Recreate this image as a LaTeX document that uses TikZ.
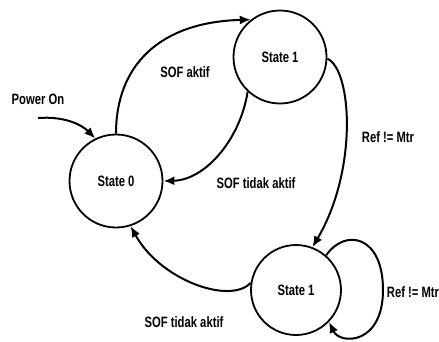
\documentclass[tikz,border=0pt]{standalone}
\usepackage{fontspec}
\setmainfont{Liberation Sans}[FakeStretch=0.75]
\usetikzlibrary{arrows.meta}
\begin{document}
\begin{tikzpicture}[x=1pt,y=-1pt,
  state/.style={circle,draw,line width=1.8pt,minimum size=93pt,inner sep=0pt,font=\fontsize{15}{17}\selectfont\bfseries},
  lbl/.style={font=\fontsize{15}{17}\selectfont\bfseries,inner sep=0pt},
  edge/.style={line width=2pt,-{Latex[length=11pt,width=9pt]}}]
\useasboundingbox (0,0) rectangle (439,341);
\node[state] (s0) at (116,181) {State 0};
\node[state] (s1) at (280,57) {State 1};
\node[state,minimum size=90pt] (s2) at (296,290) {State 1};
\coordinate (pw) at (38,118);
\node[lbl] (lpw) at (38,99) {Power On};
\node[lbl] (l1) at (185,72) {SOF aktif};
\node[lbl] (l2) at (256,183) {SOF tidak aktif};
\node[lbl] (l3) at (388,137) {Ref != Mtr};
\node[lbl] (l4) at (184,322) {SOF tidak aktif};
\node[lbl] (l5) at (413,292) {Ref != Mtr};
\draw[edge] (pw) .. controls (65,116) and (82,125) .. (s0.116);
\draw[edge] (s0.90) .. controls (116,65) and (160,22) .. (s1.128);
\draw[edge] (s1.227) .. controls (240,140) and (205,180) .. (s0.0);
\draw[edge] (s1.-2) .. controls (352,70) and (358,170) .. (s2.69);
\draw[edge] (s2.171) .. controls (230,305) and (160,280) .. (s0.-72);
\draw[edge] (s2.49) .. controls (345,228) and (383,235) .. (383,290) .. controls (383,345) and (340,345) .. (s2.-44);
\end{tikzpicture}
\end{document}
